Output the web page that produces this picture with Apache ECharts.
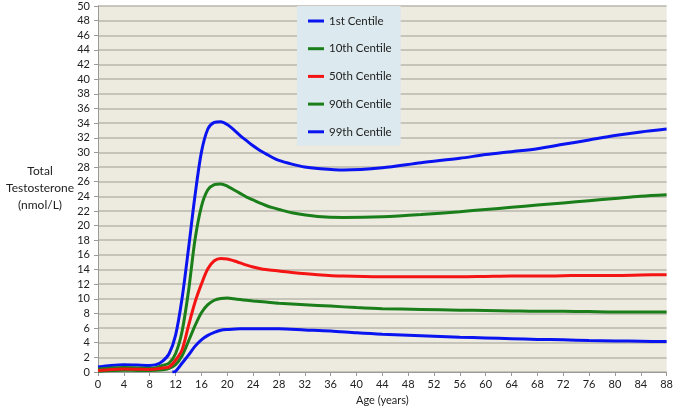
<!DOCTYPE html>
<html><head><meta charset="utf-8">
<script src="https://cdn.jsdelivr.net/npm/echarts@6/dist/echarts.min.js"></script>
<style>html,body{margin:0;padding:0;background:#fff}#c{width:676px;height:411px}</style>
</head><body><div id="c"></div>
<script>
const seriesNames = ['1st Centile','10th Centile','50th Centile','90th Centile','99th Centile'];
const xTicks = {min:0, max:88, interval:4};
const yTicks = {min:0, max:50, interval:2};

const agesTop = [0,2,4,6,8,9,10,11,12,13,14,15,16,17,18,19,20,21,22,23,24,25,26,27,28,30,32,34,38,44,50,56,60,64,68,72,76,80,84,88];
const valsTop = [0.7,0.9,1.0,0.95,0.9,1.0,1.5,2.5,5,10,16.8,24,30.0,33.2,34.1,34.2,33.8,33.1,32.3,31.6,30.9,30.3,29.8,29.3,28.9,28.4,28.0,27.8,27.6,27.9,28.6,29.2,29.7,30.1,30.5,31.1,31.7,32.3,32.8,33.2];

const agesG90 = [0,2,4,6,8,9,10,11,12,13,14,15,16,17,18,19,20,21,22,23,24,25,26,27,28,30,34,38,44,50,56,60,64,68,72,76,80,84,88];
const valsG90 = [0.4,0.55,0.6,0.55,0.5,0.6,0.9,1.2,2.5,5.5,11,18,22.6,24.9,25.6,25.7,25.4,24.9,24.4,23.9,23.5,23.1,22.75,22.45,22.2,21.75,21.25,21.1,21.2,21.5,21.9,22.2,22.5,22.8,23.1,23.4,23.7,24.0,24.2];

const agesRed = [0,2,4,6,8,9,10,11,12,13,14,15,16,17,18,19,20,21,22,23,24,25,26,28,30,34,38,44,50,56,60,64,68,72,76,80,84,88];
const valsRed = [0.2,0.35,0.4,0.38,0.35,0.4,0.55,0.7,1.6,3.0,6.3,9.5,12.0,14.1,15.2,15.5,15.45,15.2,14.9,14.6,14.35,14.15,14.0,13.8,13.6,13.3,13.1,13.0,13.0,13.0,13.05,13.1,13.1,13.15,13.2,13.2,13.25,13.3];

const agesG10 = [0,2,4,6,8,10,11,12,13,14,15,16,17,18,19,20,21,22,23,24,26,28,32,36,40,44,50,56,60,64,68,72,76,80,84,88];
const valsG10 = [0.1,0.2,0.25,0.22,0.2,0.3,0.5,1.0,2.2,4.2,6.3,8.1,9.2,9.8,10.05,10.1,10.0,9.9,9.8,9.7,9.55,9.4,9.2,9.0,8.8,8.65,8.55,8.45,8.4,8.35,8.3,8.3,8.25,8.2,8.2,8.2];

const agesBot = [11.5,12,13,14,15,16,17,18,19,20,22,24,28,32,36,40,44,50,56,60,64,68,72,76,80,84,88];
const valsBot = [0,0.1,1.2,2.3,3.5,4.4,5.0,5.4,5.7,5.8,5.9,5.9,5.9,5.75,5.6,5.35,5.15,4.95,4.75,4.65,4.55,4.45,4.4,4.3,4.25,4.2,4.15];

const pair = (a, v) => a.map((x, i) => [x, v[i]]);
const BLUE = '#0a14f0', GREEN = '#1a7f1a', RED = '#f51414';
const FONT = 'Lato';

const chart = echarts.init(document.getElementById('c'));
function mk(name, color, data, z) {
  return {name, type:'line', data, smooth:0.3, showSymbol:false, symbol:'none', z,
    lineStyle:{color, width:3}, itemStyle:{color}};
}
chart.setOption({
  animation:false,
  textStyle:{fontFamily:FONT},
  grid:{left:98, right:9, top:6, bottom:37, show:true, backgroundColor:'#edeadf', borderWidth:0},
  legend:{
    orient:'vertical', left:297, top:6,
    backgroundColor:'#dce9ee', padding:[8,9,7,11],
    itemWidth:16, itemHeight:3, icon:'rect', itemGap:13.7,
    textStyle:{fontFamily:FONT, fontSize:11.5, color:'#222', lineHeight:14},
    data:seriesNames
  },
  xAxis:{type:'value', min:xTicks.min, max:xTicks.max, interval:xTicks.interval,
    name:'Age (years)', nameLocation:'middle', nameGap:23,
    nameTextStyle:{fontFamily:FONT, fontSize:11, color:'#222'},
    axisLine:{show:true, lineStyle:{color:'#9a9a9a'}},
    axisTick:{show:true, length:4, lineStyle:{color:'#9a9a9a'}},
    axisLabel:{fontSize:11, color:'#222', margin:7, fontFamily:FONT},
    splitLine:{show:false}},
  yAxis:{type:'value', min:yTicks.min, max:yTicks.max, interval:yTicks.interval,
    axisLine:{show:true, lineStyle:{color:'#9a9a9a'}},
    axisTick:{show:true, length:4, lineStyle:{color:'#9a9a9a'}},
    axisLabel:{fontSize:11, color:'#222', margin:8, fontFamily:FONT},
    splitLine:{show:true, lineStyle:{color:'#b9b6ad', width:1.5}}},
  graphic:[{type:'text', x:40, y:163, style:{text:'Total\nTestosterone\n(nmol/L)', fontFamily:FONT, fontSize:12, fill:'#222', align:'center', lineHeight:17}}],
  series:[
    mk('1st Centile', BLUE, pair(agesBot, valsBot), 2),
    mk('10th Centile', GREEN, pair(agesG10, valsG10), 3),
    mk('50th Centile', RED, pair(agesRed, valsRed), 4),
    mk('90th Centile', GREEN, pair(agesG90, valsG90), 3),
    mk('99th Centile', BLUE, pair(agesTop, valsTop), 2)
  ]
});
</script></body></html>
